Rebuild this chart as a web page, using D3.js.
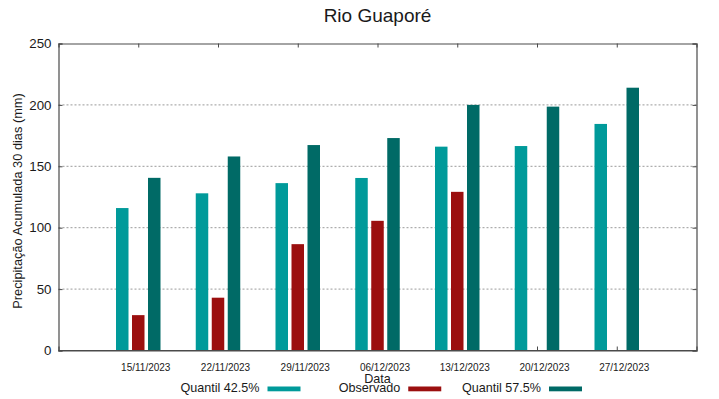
<!DOCTYPE html>
<html>
<head>
<meta charset="utf-8">
<script src="https://cdn.jsdelivr.net/npm/d3@7"></script>
<style>
  html, body { margin: 0; padding: 0; background: #fff; }
  svg { display: block; font-family: "Liberation Sans", Arial, sans-serif; }
</style>
</head>
<body>
<svg id="chart" width="719" height="399"></svg>
<script>
// ---- data ----
const dates = ["15/11/2023", "22/11/2023", "29/11/2023", "06/12/2023", "13/12/2023", "20/12/2023", "27/12/2023"];
const quantil425 = [116, 128, 136.3, 140.5, 166, 166.5, 184.5];
const observado = [28.8, 43, 86.6, 105.6, 129.2, null, null];
const quantil575 = [140.6, 158, 167.3, 173, 200, 198.6, 214];
const yTicks = [0, 50, 100, 150, 200, 250];
const seriesNames = ["Quantil 42.5%", "Observado", "Quantil 57.5%"];
const seriesColors = ["#009a9a", "#9b0f0f", "#006a66"];

// ---- layout ----
const W = 719, H = 399;
const L = 58.5, R = 696.5, T = 43.5, B = 350.5;
const svg = d3.select("#chart");
const axisColor = "#4a4a4a";
const textColor = "#1a1a1a";

const x = d3.scaleLinear().domain([0, dates.length + 1]).range([L, R]);
const y = d3.scaleLinear().domain([0, 250]).range([B, T]);

// gridlines
svg.append("g").selectAll("line")
  .data(yTicks.filter(v => v > 0 && v < 250))
  .join("line")
  .attr("x1", L).attr("x2", R)
  .attr("y1", d => y(d)).attr("y2", d => y(d))
  .attr("stroke", "#9a9a9a").attr("stroke-width", 1)
  .attr("stroke-dasharray", "2,2");

// axes (gnuplot-like frame with inward ticks)
const gLeft = svg.append("g").attr("transform", `translate(${L},0)`)
  .call(d3.axisLeft(y).tickValues(yTicks).tickSize(-4).tickPadding(7));
const gRight = svg.append("g").attr("transform", `translate(${R},0)`)
  .call(d3.axisRight(y).tickValues(yTicks).tickSize(-4).tickFormat(""));
const gTop = svg.append("g").attr("transform", `translate(0,${T})`)
  .call(d3.axisTop(x).tickValues(d3.range(1, dates.length + 1)).tickSize(-4).tickFormat(""));
const gBottom = svg.append("g").attr("transform", `translate(0,${B})`)
  .call(d3.axisBottom(x).tickValues(d3.range(1, dates.length + 1)).tickSize(-4).tickPadding(13.5)
    .tickFormat(i => dates[i - 1]));

[gLeft, gRight, gTop, gBottom].forEach(g => {
  g.select(".domain").attr("stroke", axisColor).attr("stroke-width", 1.2);
  g.selectAll(".tick line").attr("stroke", axisColor);
});
gLeft.selectAll(".tick text").attr("font-size", 13.3).attr("fill", textColor)
  .attr("font-family", "Liberation Sans, Arial, sans-serif");
gBottom.selectAll(".tick text").attr("font-size", 10).attr("fill", textColor).attr("dx", 7)
  .attr("font-family", "Liberation Sans, Arial, sans-serif");

// bars
const barW = 12.5;
const pxPerUnit = x(1) - x(0);
const offsets = [-16, 0, 16].map(p => p / pxPerUnit);
const series = [quantil425, observado, quantil575];
const gBars = svg.append("g");
series.forEach((vals, s) => {
  gBars.append("g").selectAll("rect")
    .data(vals.map((v, i) => ({ v, i })).filter(d => d.v != null))
    .join("rect")
    .attr("x", d => x(d.i + 1 + offsets[s]) - barW / 2)
    .attr("width", barW)
    .attr("y", d => y(d.v))
    .attr("height", d => y(0) - y(d.v))
    .attr("fill", seriesColors[s]);
});
// redraw bottom frame line on top of bars
svg.append("line").attr("x1", L).attr("x2", R).attr("y1", B).attr("y2", B)
  .attr("stroke", axisColor).attr("stroke-width", 1.2);

// title
svg.append("text").attr("x", (L + R) / 2).attr("y", 22)
  .attr("text-anchor", "middle").attr("font-size", 19).attr("fill", textColor)
  .text("Rio Guaporé");

// y label
svg.append("text")
  .attr("transform", `translate(22,${(T + B) / 2 + 4}) rotate(-90)`)
  .attr("text-anchor", "middle").attr("font-size", 12.8).attr("fill", textColor)
  .text("Precipitação Acumulada 30 dias (mm)");

// x label
svg.append("text").attr("x", (L + R) / 2).attr("y", 383)
  .attr("text-anchor", "middle").attr("font-size", 12.6).attr("fill", textColor)
  .text("Data");

// legend
const legendEnd = d3.scaleLinear().domain([0, 2]).range([259.5, 541]);
const gLeg = svg.append("g");
seriesNames.forEach((name, s) => {
  const xe = legendEnd(s);
  gLeg.append("text").attr("x", xe).attr("y", 391.5)
    .attr("text-anchor", "end").attr("font-size", 12.6).attr("fill", textColor)
    .text(name);
  gLeg.append("rect").attr("x", xe + 8).attr("y", 386.5).attr("width", 33).attr("height", 4.8)
    .attr("fill", seriesColors[s]);
});
</script>
</body>
</html>
